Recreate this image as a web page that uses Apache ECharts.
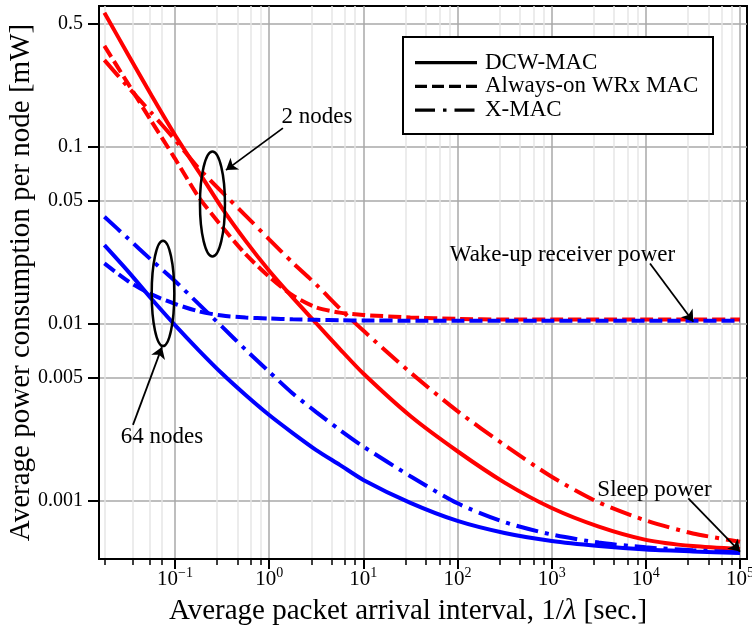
<!DOCTYPE html>
<html>
<head>
<meta charset="utf-8">
<script src="https://cdn.jsdelivr.net/npm/echarts@6/dist/echarts.min.js"></script>
<style>
  html, body { margin: 0; padding: 0; background: #fff; }
  #chart { width: 752px; height: 635px; }
</style>
</head>
<body>
<div id="chart"></div>
<script>
// packet arrival interval 1/lambda [s]
const arrivalInterval = [0.0178, 0.0316, 0.0562, 0.1, 0.178, 0.316, 0.562, 1, 1.78, 3.16, 5.62, 10,
  31.6, 100, 316, 1000, 3162, 10000, 31623, 100000];

// 2 nodes (red)
const dcw2 = [0.574, 0.335, 0.196, 0.117, 0.0728, 0.0452, 0.0295, 0.0200, 0.0141, 0.0101, 0.00724, 0.00525,
  0.00302, 0.00191, 0.00127, 0.000912, 0.000716, 0.000603, 0.000556, 0.000535];
const alwaysOn2 = [0.373, 0.229, 0.140, 0.0861, 0.0523, 0.0355, 0.0248, 0.0185, 0.0145, 0.0124, 0.0116, 0.01125,
  0.0109, 0.0107, 0.0106, 0.0106, 0.0106, 0.0106, 0.0106, 0.0106];
const xmac2 = [0.310, 0.219, 0.156, 0.110, 0.0760, 0.0557, 0.0410, 0.0301, 0.0222, 0.0167, 0.01225, 0.00918,
  0.00532, 0.00322, 0.00207, 0.00137, 0.000982, 0.000776, 0.000655, 0.000589];

// 64 nodes (blue)
const dcw64 = [0.0279, 0.0199, 0.0139, 0.00986, 0.00713, 0.00525, 0.00397, 0.00306, 0.00242, 0.00194, 0.00160, 0.001315,
  0.000975, 0.000771, 0.000659, 0.000594, 0.000557, 0.000532, 0.000519, 0.000508];
const alwaysOn64 = [0.0220, 0.0175, 0.0147, 0.0130, 0.0118, 0.01116, 0.01088, 0.01074, 0.01063, 0.01056, 0.0105, 0.01047,
  0.01045, 0.01045, 0.01045, 0.01045, 0.01045, 0.01045, 0.01045, 0.01045];
const xmac64 = [0.0404, 0.0305, 0.0230, 0.0175, 0.0130, 0.00966, 0.00716, 0.00537, 0.00405, 0.00318, 0.00252, 0.00203,
  0.00138, 0.000970, 0.000759, 0.000646, 0.000582, 0.000547, 0.000526, 0.000513];

const xMajorTicks = [0.1, 1, 10, 100, 1000, 10000, 100000];
const xMinorTicks = [0.0178, 0.0358, 0.0538, 0.0718, 0.28, 0.46, 0.64, 0.82, 2.8, 4.6, 6.4, 8.2,
  28, 46, 64, 82, 280, 460, 640, 820, 2800, 4600, 6400, 8200, 28000, 46000, 64000, 82000];
const yTicks = [0.001, 0.005, 0.01, 0.05, 0.1, 0.5];

const legendNames = ['DCW-MAC', 'Always-on WRx MAC', 'X-MAC'];

const FONT = '"Liberation Serif", "Times New Roman", serif';
const SOLID = 'solid';
const DASHED = [13, 5];
const DASHDOT = [22, 7, 4, 7];

const chart = echarts.init(document.getElementById('chart'));

function pairs(ys) {
  return arrivalInterval.map((x, i) => [x, ys[i]]);
}

function curve(name, ys, color, dash) {
  return {
    type: 'line',
    name: name,
    data: pairs(ys),
    symbol: 'none',
    smooth: 0.25,
    silent: true,
    lineStyle: { color: color, width: 4, type: dash, cap: 'butt' }
  };
}

const xLabelFormatter = function (v) {
  const e = Math.round(Math.log10(v));
  return '{b|10}{s|' + String(e).replace('-', '\u2212') + '}';
};

chart.setOption({
  animation: false,
  grid: {
    left: 99, right: 5, top: 6, bottom: 76, outerBoundsMode: 'none', containLabel: false,
    show: true, borderColor: '#000', borderWidth: 2
  },
  xAxis: [{
    type: 'log', logBase: 10, min: 0.0156, max: 118600, position: 'bottom',
    axisLine: { show: true, onZero: false, lineStyle: { color: '#000', width: 2 } },
    axisTick: { show: true, inside: false, length: 10, customValues: xMajorTicks, lineStyle: { color: '#000', width: 2 } },
    axisLabel: {
      customValues: xMajorTicks, margin: 7, formatter: xLabelFormatter,
      rich: {
        b: { fontFamily: FONT, fontSize: 21, color: '#000', lineHeight: 24, verticalAlign: 'bottom' },
        s: { fontFamily: FONT, fontSize: 14, color: '#000', lineHeight: 14, verticalAlign: 'top' }
      }
    },
    splitLine: { show: true, lineStyle: { color: '#a8a8a8', width: 1.5 } },
    minorTick: { show: false },
    name: '{n|Average packet arrival interval, 1/}{i|\u03bb}{n| [sec.]}',
    nameLocation: 'middle', nameGap: 38, nameMoveOverlap: false,
    nameTextStyle: {
      padding: [0, 30, 0, 0],
      rich: {
        n: { fontFamily: FONT, fontSize: 29, color: '#000' },
        i: { fontFamily: FONT, fontSize: 29, color: '#000', fontStyle: 'italic' }
      }
    }
  }, {
    type: 'log', logBase: 10, min: 0.0156, max: 118600, position: 'bottom',
    axisLine: { show: false },
    axisTick: { show: true, inside: false, length: 6, customValues: xMinorTicks, lineStyle: { color: '#000', width: 1.5 } },
    axisLabel: { show: false },
    splitLine: { show: true, lineStyle: { color: '#e6e6e6', width: 1.5 } }
  }],
  yAxis: {
    type: 'log', logBase: 10, min: 0.00047, max: 0.627,
    axisLine: { show: true, onZero: false, lineStyle: { color: '#000', width: 2 } },
    axisTick: { show: true, inside: false, length: 11, customValues: yTicks, lineStyle: { color: '#000', width: 2 } },
    axisLabel: {
      customValues: yTicks, margin: 16, fontFamily: FONT, fontSize: 20, color: '#000',
      formatter: v => String(+(+v).toPrecision(3))
    },
    splitLine: { show: true, lineStyle: { color: '#a8a8a8', width: 1.5 } },
    minorTick: { show: false },
    name: 'Average power consumption per node [mW]',
    nameLocation: 'middle', nameGap: 63, nameMoveOverlap: false,
    nameTextStyle: { fontFamily: FONT, fontSize: 29, color: '#000' }
  },
  series: [
    curve('DCW-MAC (2 nodes)', dcw2, '#ff0000', SOLID),
    curve('Always-on WRx MAC (2 nodes)', alwaysOn2, '#ff0000', DASHED),
    curve('X-MAC (2 nodes)', xmac2, '#ff0000', DASHDOT),
    curve('DCW-MAC (64 nodes)', dcw64, '#0000ff', SOLID),
    curve('Always-on WRx MAC (64 nodes)', alwaysOn64, '#0000ff', DASHED),
    curve('X-MAC (64 nodes)', xmac64, '#0000ff', DASHDOT),
    {
      type: 'line', name: 'annotations', data: [], z: 10,
      markLine: {
        silent: true, animation: false,
        symbol: ['none', 'arrow'], symbolSize: 11,
        label: { show: false },
        lineStyle: { color: '#000', width: 1.8, type: 'solid' },
        data: [
          [{ coord: [1.40, 0.128] }, { coord: [0.348, 0.0741] }],
          [{ coord: [0.0358, 0.00269] }, { coord: [0.0727, 0.00741] }],
          [{ coord: [11070, 0.0220] }, { coord: [31900, 0.01031] }],
          [{ coord: [28250, 0.001035] }, { coord: [100000, 0.000518] }]
        ]
      }
    }
  ]
});

// annotation ellipses and labels, anchored in data coordinates
const px = (x, y) => chart.convertToPixel({ gridIndex: 0 }, [x, y]);
const ellipses = [
  { at: [0.25, 0.0477], rx: 12.5, ry: 52.5 },
  { at: [0.0746, 0.0149], rx: 11.3, ry: 52.7 }
];
const notes = [
  { text: '2 nodes', at: [3.22, 0.1476] },
  { text: '64 nodes', at: [0.0727, 0.0023] },
  { text: 'Wake-up receiver power', at: [1303, 0.02455] },
  { text: 'Sleep power', at: [12360, 0.00115] }
];

const graphics = [];
ellipses.forEach(e => {
  const c = px(e.at[0], e.at[1]);
  graphics.push({
    type: 'ellipse', z: 100, silent: true,
    shape: { cx: c[0], cy: c[1], rx: e.rx, ry: e.ry },
    style: { fill: 'none', stroke: '#000', lineWidth: 2.5 }
  });
});
notes.forEach(n => {
  const c = px(n.at[0], n.at[1]);
  graphics.push({
    type: 'text', z: 100, silent: true, x: c[0], y: c[1],
    style: {
      text: n.text, fill: '#000', font: '23px ' + FONT,
      textAlign: 'center', textVerticalAlign: 'middle', align: 'center', verticalAlign: 'middle'
    }
  });
});

// legend box
const legendDash = [SOLID, [12, 5], [20, 8, 3.5, 8]];
graphics.push({
  type: 'rect', z: 100, silent: true,
  shape: { x: 403, y: 37, width: 310, height: 97 },
  style: { fill: '#fff', stroke: '#000', lineWidth: 2 }
});
legendNames.forEach((name, i) => {
  const y = 62.7 + i * 23.7;
  graphics.push({
    type: 'line', z: 101, silent: true,
    shape: { x1: 415, y1: y, x2: 477, y2: y },
    style: { stroke: '#000', lineWidth: 3.2, lineDash: legendDash[i] === SOLID ? null : legendDash[i], lineCap: 'butt' }
  });
  graphics.push({
    type: 'text', z: 101, silent: true, x: 485, y: y,
    style: {
      text: name, fill: '#000', font: '23px ' + FONT,
      textAlign: 'left', textVerticalAlign: 'middle', align: 'left', verticalAlign: 'middle'
    }
  });
});

chart.setOption({ graphic: graphics });
</script>
</body>
</html>
